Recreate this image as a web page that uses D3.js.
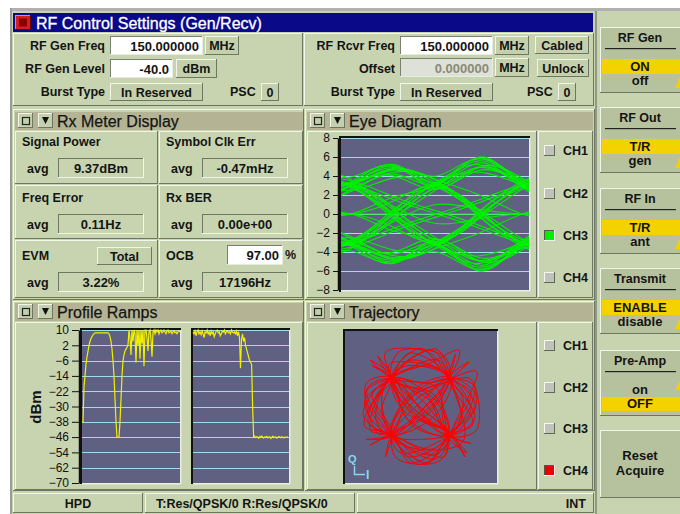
<!DOCTYPE html>
<html><head><meta charset="utf-8">
<script src="https://cdn.jsdelivr.net/npm/d3@7"></script>
<style>
html,body{margin:0;padding:0;background:#fff;}
svg{display:block;font-family:"Liberation Sans",Arial,Helvetica,sans-serif;}
</style></head><body>
<svg id="c" width="680" height="514"></svg>
<script>
// ---------------- DATA ----------------
const eyeTicks = [8,6,4,2,0,-2,-4,-6,-8];
const rampTicks = [10,2,-6,-14,-22,-30,-38,-46,-54,-62,-70];
const eyeKnots = [-0.5,0,0.5,1,1.5,2,2.5];
const eyeTraces = [
 [1,3.0,5.0,3.1,6.0,3.0,1],
 [-1,-3.0,-5.0,-3.1,-6.0,-3.0,-1],
 [4.5,3.2,4.6,2.9,0.2,-3.1,-4.5],
 [-4.5,-3.2,-4.6,-2.9,-0.2,3.1,4.5],
 [1,3.1,0.0,-3.0,-5.8,-3.2,-1],
 [-1,-3.1,0.0,3.0,5.8,3.2,1],
 [4,2.8,-0.3,-3.2,0.2,3.0,4],
 [-4,-2.8,0.3,3.2,-0.2,-3.0,-4],
 [2,3.4,5.2,3.3,5.4,2.9,2],
 [-2,-3.4,-5.2,-3.3,-5.4,-2.9,-2],
 [5,3.6,0.4,-2.6,-4.9,-3.3,-2],
 [-5,-3.6,-0.4,2.6,4.9,3.3,2],
 [0,2.6,4.4,3.5,-0.3,-3.4,-5],
 [0,-2.6,-4.4,-3.5,0.3,3.4,5],
 [3,3.0,1.5,0.0,-1.5,-3.0,-3],
 [-3,-3.0,-1.5,0.0,1.5,3.0,3],
 [0,0.0,0.0,0.0,0.0,0.0,0],
 [0,0.0,1.8,3.1,5.6,3.4,2],
 [0,0.0,-1.8,-3.1,-5.6,-3.4,-2],
 [4,3.3,4.8,3.6,2.0,0.0,-1],
 [-4,-3.3,-4.8,-3.6,-2.0,0.0,1],
 [2,2.7,-0.5,-3.4,-5.2,-2.8,0],
 [-2,-2.7,0.5,3.4,5.2,2.8,0],
 [5,3.9,5.1,2.7,4.9,3.6,4],
 [-5,-3.9,-5.1,-2.7,-4.9,-3.6,-4],
 [3,3.2,0.6,-2.7,-0.4,3.3,5],
 [-3,-3.2,-0.6,2.7,0.4,-3.3,-5],
 [1,2.4,4.2,2.9,5.0,3.8,1],
 [-1,-2.4,-4.2,-2.9,-5.0,-3.8,-1],
 [4,3.5,1.8,0.3,-1.2,-2.9,-4],
 [-4,-3.5,-1.8,-0.3,1.2,2.9,4],
 [2,3.0,4.7,3.2,0.4,-2.6,-5],
 [-2,-3.0,-4.7,-3.2,-0.4,2.6,5],
 [3.5,2.9,-0.1,-3.3,-4.4,-3.0,-1],
 [-3.5,-2.9,0.1,3.3,4.4,3.0,1],
 [0,3.1,4.0,2.6,4.6,3.1,0],
 [0,-3.1,-4.0,-2.6,-4.6,-3.1,0],
 [4.8,3.0,0.8,-1.0,-0.5,0.0,0],
 [-4.8,-3.0,-0.8,1.0,0.5,0.0,0],
 [0,0.0,1.4,3.0,0.3,-3.0,-4],
 [0,0.0,-1.4,-3.0,-0.3,3.0,4],
 [2.2,3.3,4.9,4.0,5.9,3.5,2],
 [-2.2,-3.3,-4.9,-4.0,-5.9,-3.5,-2],
 [3.8,2.5,3.8,3.0,0.0,-2.7,-3],
 [-3.8,-2.5,-3.8,-3.0,0.0,2.7,3]
];
// Profile ramps (dBm per sample)
const rampUp = [-38,-38,-20,-14,-8,-4,-1,2,4,5.5,6.5,7.5,8,
 8.5,8.5,8.5,8.5,8.5,8.5,8.5,8.5,8.5,8.5,8.5,8.5,8.5,8.5,
 8,6.5,4,0,-6,-14,-26,-38,-46,-46,-46,-38,-26,-14,-6,-3,-1,0,1,2,
 10,6,-3,10,4,10,8,-7,10,2,10,-5,10,3,10,-9,10,10,6,-1,9,10,5,-4,9,10,8,10,
 9,10,8,9.5,10,8.5,9,10,9,8,9.5,10,8.5,9,9.5,8,9,9.5,8.5,9,8,9,9.5,9];
const rampDown = [9,8,9.5,7,9,10,8,9,7.5,9.5,8,6,9,8.5,10,8,9,7,9.5,8,9,6.5,8,9.5,10,8.5,9,7,8,9.5,9,10,8,9,9.5,8.5,9,8,10,9,8.5,9,8,9.5,7,9,6,
 -10,5,8,4,6,2,0,-2,-4,-6,-7,-8,-30,
 -46,-45.5,-46.3,-45.8,-46,-46.6,-45.7,-46.2,-45.4,-46,-46.5,-45.9,-46.1,-45.6,-46.4,-46,-45.8,-46.7,-46.1,-45.5,-46.3,-46,-45.9,-46.6,-46.2,-45.7,-46,-46.4,-45.8,-46.1,-46.5,-45.9,-46.2,-46,-45.8];
// Trajectory I/Q samples
const trajIQ = [
[-0.72,0.75],[-0.3,1.38],[0.78,0.7],[0.35,-0.25],[-0.74,-0.7],[-1.42,0.35],[-0.7,0.78],[0.45,1.2],[0.76,0.66],[1.1,-0.9],
[-0.05,-1.1],[-0.78,-0.74],[-0.2,0.4],[0.73,0.77],[1.45,0.25],[0.77,-0.76],[-0.35,-0.3],[-0.73,0.7],[-1.25,1.05],[-0.76,0.74],
[-1.0,-0.1],[-0.71,-0.77],[0.4,-1.35],[0.74,-0.7],[0.3,0.25],[-0.77,0.71],[0.1,1.05],[0.72,0.75],[-0.25,-0.35],[-0.76,-0.69],
[-1.3,-1.0],[-0.73,-0.78],[0.1,-1.48],[0.78,-0.73],[1.35,-0.45],[0.75,0.7],[0.9,1.35],[0.71,0.76],[-0.3,0.2],[-0.76,-0.72],
[-1.48,-0.2],[-0.74,0.73],[0.25,-0.4],[0.77,-0.71],[0.0,-0.85],[-0.72,-0.75],[0.2,0.3],[0.74,0.72],[1.3,-0.1],[0.73,-0.77],
[1.2,-1.2],[0.76,-0.7],[-0.4,0.35],[-0.75,0.76],[-1.4,0.6],[-1.1,-0.7],[-0.77,-0.71],[-0.3,-1.3],[0.72,-0.74],[0.35,0.3],
[-0.74,0.7],[-0.55,1.42],[0.6,1.3],[0.76,0.73],[0.2,-0.2],[-0.73,-0.73],[-0.9,-1.3],[-0.76,-0.7],[-1.2,0.1],[-0.72,0.74],
[-1.3,1.2],[-0.75,0.71],[0.3,0.1],[0.75,-0.75],[1.45,-0.6],[1.3,0.7],[0.74,0.74],[0.0,1.5],[-0.76,0.72],[-0.1,-0.3],
[0.73,-0.72],[0.5,-1.4],[-0.6,-1.35],[-0.74,-0.74],[-0.15,0.15],[0.77,0.71],[1.25,1.15],[0.75,0.74],[1.1,0.2],[0.76,-0.73],
[-0.2,-0.1],[-0.75,0.73],[-1.35,-0.4],[-0.74,-0.72],[0.3,-1.1],[0.75,-0.71],[1.42,0.0],[0.73,0.73],[0.4,0.1],[-0.72,-0.76],
[-1.45,0.1],[-0.76,0.73],[-0.2,1.2],[0.74,0.71],[-0.1,0.35],[-0.75,-0.71],[0.2,-1.45],[0.76,-0.74],[1.15,-1.3],[0.74,-0.72],
[-0.35,0.1],[-0.74,0.75],[-0.9,1.4],[0.2,1.4],[0.75,0.72],[1.4,-0.3],[0.72,-0.74],[0.1,0.4],[-0.76,0.72],[-1.15,-0.35],
[-0.74,-0.75],[0.25,0.15],[0.75,0.73],[1.0,1.45],[0.2,1.1],[-0.73,0.73],[-1.45,-0.5],[-0.75,-0.72],[-0.25,-1.45],[0.74,-0.73],
[-0.05,0.0],[-0.75,0.72],[-1.38,0.45],[-0.73,-0.74],[0.35,-1.25],[0.77,-0.72],[-0.15,-0.2],[-0.74,0.73],[0.3,1.45],[0.76,0.72],
[1.05,-0.35],[0.74,-0.74],[-0.5,-1.2],[-0.76,-0.72],[-0.3,0.25],[0.73,0.73],[1.4,0.5],[0.75,-0.72],[0.15,-0.35],[-0.74,0.72],
[-0.35,1.05],[0.75,0.74],[0.2,-0.05],[-0.75,-0.73],[-1.4,-0.85],[-0.72,-0.74],[-1.25,0.35],[-0.76,0.71],[-1.1,1.3],[-0.74,0.74],
[0.4,0.5],[0.76,-0.72],[1.3,-0.95],[0.73,-0.73],[0.55,0.2],[0.75,0.72],[0.4,1.48],[-0.73,0.72],[-0.45,-0.1],[0.74,-0.74],
[0.0,-1.5],[-0.75,-0.72],[-1.0,0.25],[-0.75,0.73],[0.1,0.6],[0.74,0.72],[1.45,0.9],[0.9,-0.4],[0.75,-0.72],[-0.2,-0.5],
[-0.74,0.72],[-0.8,1.1],[0.45,1.0],[0.75,0.71],[1.3,0.35],[0.75,-0.73],[0.6,-1.3],[-0.76,-0.73],[-1.3,-0.6],[-0.73,0.74],
[0.0,0.2],[0.75,-0.72]
];
const channels = ["CH1","CH2","CH3","CH4"];
const eyeActive = 2, trajActive = 3;
const meterLabels = ["Signal Power","Symbol Clk Err","Freq Error","Rx BER","EVM","OCB"];
const meterValues = ["9.37dBm","-0.47mHz","0.11Hz","0.00e+00","3.22%","17196Hz"];
const sideButtons = [
 {title:"RF Gen", opts:["ON","off"], sel:0},
 {title:"RF Out", opts:["T/R","gen"], sel:0},
 {title:"RF In", opts:["T/R","ant"], sel:0},
 {title:"Transmit", opts:["ENABLE","disable"], sel:0},
 {title:"Pre-Amp", opts:["on","OFF"], sel:1}
];
const statusTexts = ["HPD","T:Res/QPSK/0 R:Res/QPSK/0","INT"];

// ---------------- STYLE ----------------
const C = {bg:"#c8d4b0", hdr:"#b4b494", btn:"#c4d0ac", side:"#b6c29e", light:"#f2f6ea", dark:"#6c7660",
  navy:"#0a0a88", yellow:"#f4d200", plot:"#5f6082", grid:"#9fdcec", text:"#141414"};
const svg = d3.select("#c");

function bevel(g,x,y,w,h,o={}){
  const lw=o.lw||1, s=o.sunken;
  g.append("rect").attr("x",x).attr("y",y).attr("width",w).attr("height",h).attr("fill",o.fill||C.bg);
  const tl=o.tl||(s?C.dark:C.light), br=o.br||(s?C.light:C.dark);
  g.append("rect").attr("x",x).attr("y",y+h-lw).attr("width",w).attr("height",lw).attr("fill",br);
  g.append("rect").attr("x",x+w-lw).attr("y",y).attr("width",lw).attr("height",h).attr("fill",br);
  g.append("rect").attr("x",x).attr("y",y).attr("width",w-lw).attr("height",lw).attr("fill",tl);
  g.append("rect").attr("x",x).attr("y",y).attr("width",lw).attr("height",h-lw).attr("fill",tl);
}
function txt(g,x,y,s,o={}){
  return g.append("text").attr("x",x).attr("y",y).text(s)
   .attr("font-size",o.size||12.5).attr("font-weight",o.weight||"bold")
   .attr("fill",o.fill||C.text).attr("text-anchor",o.anchor||"start");
}
function button(g,x,y,w,h,label,o={}){
  bevel(g,x,y,w,h,{fill:o.fill||C.btn});
  txt(g,x+w/2,y+h/2+4.5,label,{anchor:"middle",size:o.size||12.5});
}
function input(g,x,y,w,h,val,o={}){
  bevel(g,x,y,w,h,{fill:o.fill||"#ffffff",sunken:true,tl:"#7a8070",br:"#e8ece0"});
  txt(g,x+w-4,y+h/2+5,val,{anchor:"end",size:13,fill:o.color||C.text});
}
function header(g,x,y,w,title){
  g.append("rect").attr("x",x).attr("y",y).attr("width",w).attr("height",18).attr("fill",C.hdr);
  bevel(g,x+3,y+1,15,15,{fill:C.btn});
  g.append("rect").attr("x",x+7.5).attr("y",y+5.5).attr("width",7).attr("height",7).attr("fill","none").attr("stroke","#222").attr("stroke-width",1.2);
  bevel(g,x+23,y+1,15,15,{fill:C.btn});
  g.append("path").attr("d",`M${x+27},${y+5}H${x+34}L${x+30.5},${y+12}Z`).attr("fill","#111");
  txt(g,x+42,y+15,title,{size:16,weight:"normal"}).attr("stroke","#141414").attr("stroke-width",0.25);
}

// ---------------- FRAME ----------------
svg.append("rect").attr("x",0).attr("y",0).attr("width",680).attr("height",514).attr("fill","#ffffff");
svg.append("rect").attr("x",10).attr("y",8).attr("width",670).attr("height",3).attr("fill","#b0b0b0");
svg.append("rect").attr("x",10).attr("y",8).attr("width",2).attr("height",506).attr("fill","#9a9a9a");
svg.append("rect").attr("x",12).attr("y",11).attr("width",583).attr("height",503).attr("fill",C.bg);
svg.append("rect").attr("x",595).attr("y",11).attr("width",2).attr("height",503).attr("fill","#8f9a84");
svg.append("rect").attr("x",597).attr("y",11).attr("width",83).attr("height",503).attr("fill",C.bg);

// Title bar
const tp = svg.append("g");
tp.append("rect").attr("x",13).attr("y",13).attr("width",580).attr("height",19).attr("fill",C.navy);
bevel(tp,15,15,16,15,{fill:"#d02020",tl:"#ff8080",br:"#600000"});
tp.append("rect").attr("x",19).attr("y",18.5).attr("width",8).attr("height",8).attr("fill","#8a0000");
txt(tp,36,29,"RF Control Settings (Gen/Recv)",{size:16,weight:"normal",fill:"#ffffff"}).attr("stroke","#ffffff").attr("stroke-width",0.3);

// top settings panel
bevel(tp,13,33,290,73,{fill:C.bg});
bevel(tp,304,33,290,73,{fill:C.bg});
txt(tp,105,50,"RF Gen Freq",{anchor:"end"});
input(tp,110,36,93,19,"150.000000");
button(tp,205,36,34,19,"MHz");
txt(tp,105,73,"RF Gen Level",{anchor:"end"});
input(tp,110,59,63,19,"-40.0");
button(tp,176,59,41,19,"dBm");
txt(tp,105,96,"Burst Type",{anchor:"end"});
button(tp,110,83,93,18,"In Reserved");
txt(tp,230,96,"PSC");
button(tp,261,83,18,18,"0");

txt(tp,395,50,"RF Rcvr Freq",{anchor:"end"});
input(tp,400,36,93,19,"150.000000");
button(tp,495,36,34,19,"MHz");
button(tp,535,36,54,18,"Cabled");
txt(tp,395,73,"Offset",{anchor:"end"});
input(tp,400,58,93,19,"0.000000",{fill:"#dde1d8",color:"#8a8a76"});
button(tp,495,58,34,19,"MHz");
button(tp,537,59,52,18,"Unlock");
txt(tp,395,96,"Burst Type",{anchor:"end"});
button(tp,400,83,93,18,"In Reserved");
txt(tp,527,96,"PSC");
button(tp,558,83,18,18,"0");

// ---------------- RX METER ----------------
const rx = svg.append("g");
bevel(rx,13,109,291,191,{fill:C.bg});
header(rx,15,112,288,"Rx Meter Display");
const cellX=[15,159], cellW=[143,144], cellY=[131,185,240], cellH=[53,54,58];
meterLabels.forEach((lab,i)=>{
  const c=i%2, r=Math.floor(i/2);
  const x=cellX[c], y=cellY[r];
  bevel(rx,x,y,cellW[c],cellH[r],{fill:C.bg});
  const ly = [146,202,260][r], ay=[173,229,287][r];
  txt(rx,x+7,ly,lab);
  txt(rx,x+12,ay,"avg");
  const bx = c===0?58:202, by=[158,214,272][r];
  bevel(rx,bx,by,86,20,{fill:C.bg,sunken:true});
  txt(rx,bx+43,by+15,meterValues[i],{anchor:"middle",size:13});
});
button(rx,97,247,55,18,"Total");
input(rx,227,245,56,20,"97.00");
txt(rx,285,259,"%");

// ---------------- EYE DIAGRAM ----------------
const eg = svg.append("g");
bevel(eg,305,109,290,191,{fill:C.bg});
header(eg,307,112,286,"Eye Diagram");
bevel(eg,307,131,230,167,{fill:C.bg});
bevel(eg,538,131,55,167,{fill:C.bg});
const ex = d3.scaleLinear().domain([-0.12,2.08]).range([341,529]);
const ey = d3.scaleLinear().domain([-8,8]).range([290,138]);
eg.append("rect").attr("x",341).attr("y",138).attr("width",188).attr("height",152).attr("fill",C.plot);
eg.append("g").selectAll("line").data(eyeTicks).join("line")
  .attr("x1",341).attr("x2",529).attr("y1",d=>Math.round(ey(d))+0.5).attr("y2",d=>Math.round(ey(d))+0.5)
  .attr("stroke",C.grid).attr("stroke-width",1.2);
eg.append("clipPath").attr("id","eyeClip").append("rect").attr("x",341).attr("y",138).attr("width",188).attr("height",152);
const eyeLine = d3.line().x((d,i)=>ex(eyeKnots[i])).y(d=>ey(d)).curve(d3.curveNatural);
eg.append("g").attr("clip-path","url(#eyeClip)").selectAll("path").data(eyeTraces).join("path")
  .attr("d",eyeLine).attr("fill","none").attr("stroke","#00f000").attr("stroke-width",1.1);
eg.append("rect").attr("x",339).attr("y",136).attr("width",191).attr("height",2).attr("fill","#111");
eg.append("rect").attr("x",339).attr("y",136).attr("width",2).attr("height",156).attr("fill","#111");
eg.append("rect").attr("x",341).attr("y",290).attr("width",189).attr("height",1.5).attr("fill","#e8eee0");
eg.append("rect").attr("x",529).attr("y",138).attr("width",1.5).attr("height",153).attr("fill","#e8eee0");
const eyeAxis = eg.append("g").attr("transform","translate(338,0)")
  .call(d3.axisLeft(ey).tickValues(eyeTicks).tickSize(5).tickSizeOuter(0).tickFormat(d3.format("d")));
eyeAxis.select(".domain").attr("stroke","#111").attr("stroke-width",1.5);
eyeAxis.selectAll(".tick line").attr("stroke","#111");
eyeAxis.selectAll("text").attr("font-size",12).attr("fill","#111").attr("font-family","Liberation Sans, Arial, sans-serif");

function chList(g,ys,active,color){
  channels.forEach((ch,i)=>{
    const y=ys[i];
    if(i===active){
      bevel(g,544,y-5,11,11,{fill:color,tl:"#505848",br:"#f4f8ee"});
    } else {
      bevel(g,544,y-5,11,11,{fill:"#c0c4b8",tl:"#f4f8ee",br:"#606858"});
    }
    txt(g,563,y+5,ch,{size:12.5});
  });
}
chList(eg,[150,193,235,277],eyeActive,"#00ee00");

// ---------------- PROFILE RAMPS ----------------
const pg = svg.append("g");
bevel(pg,13,301,291,190,{fill:C.bg});
header(pg,15,303,288,"Profile Ramps");
bevel(pg,15,322,288,168,{fill:C.bg});
const ry = d3.scaleLinear().domain([-70,10]).range([483,330]);
const rxL = d3.scaleLinear().domain([0,rampUp.length-1]).range([82,180]);
const rxR = d3.scaleLinear().domain([0,rampDown.length-1]).range([193,288]);
[[82,180],[193,289]].forEach(([a,b])=>{
  pg.append("rect").attr("x",a).attr("y",330).attr("width",b-a).attr("height",153).attr("fill",C.plot);
  pg.append("g").selectAll("line").data(rampTicks).join("line")
   .attr("x1",a).attr("x2",b).attr("y1",d=>Math.round(ry(d))+0.5).attr("y2",d=>Math.round(ry(d))+0.5)
   .attr("stroke",C.grid).attr("stroke-width",1.2);
  pg.append("rect").attr("x",a-2).attr("y",328).attr("width",b-a+3).attr("height",2).attr("fill","#111");
  pg.append("rect").attr("x",a-2).attr("y",328).attr("width",2).attr("height",156).attr("fill","#111");
  pg.append("rect").attr("x",a).attr("y",483).attr("width",b-a+1).attr("height",1.5).attr("fill","#e8eee0");
  pg.append("rect").attr("x",b).attr("y",330).attr("width",1.5).attr("height",154).attr("fill","#e8eee0");
});
const lineL = d3.line().x((d,i)=>rxL(i)).y(d=>ry(d));
const lineR = d3.line().x((d,i)=>rxR(i)).y(d=>ry(d));
pg.append("path").attr("d",lineL(rampUp)).attr("fill","none").attr("stroke","#f0f000").attr("stroke-width",1.2);
pg.append("path").attr("d",lineR(rampDown)).attr("fill","none").attr("stroke","#f0f000").attr("stroke-width",1.2);
const rampAxis = pg.append("g").attr("transform","translate(79,0)")
  .call(d3.axisLeft(ry).tickValues(rampTicks).tickSize(7).tickSizeOuter(0).tickFormat(d3.format("d")));
rampAxis.select(".domain").attr("stroke","#111").attr("stroke-width",1.5);
rampAxis.selectAll(".tick line").attr("stroke","#111");
rampAxis.selectAll("text").attr("font-size",12).attr("fill","#111").attr("font-family","Liberation Sans, Arial, sans-serif");
txt(pg,0,0,"dBm",{size:15,anchor:"middle"}).attr("transform","translate(41,407) rotate(-90)");

// ---------------- TRAJECTORY ----------------
const tg = svg.append("g");
bevel(tg,305,301,290,190,{fill:C.bg});
header(tg,307,303,286,"Trajectory");
bevel(tg,307,322,230,168,{fill:C.bg});
bevel(tg,538,322,55,168,{fill:C.bg});
const tx = d3.scaleLinear().domain([-2,2]).range([343,498]);
const ty = d3.scaleLinear().domain([-2,2]).range([484,329]);
tg.append("rect").attr("x",345).attr("y",331).attr("width",152).attr("height",152).attr("fill",C.plot);
tg.append("rect").attr("x",343).attr("y",329).attr("width",155).attr("height",2).attr("fill","#111");
tg.append("rect").attr("x",343).attr("y",329).attr("width",2).attr("height",155).attr("fill","#111");
tg.append("rect").attr("x",345).attr("y",483).attr("width",153).attr("height",1.5).attr("fill","#e8eee0");
tg.append("rect").attr("x",497).attr("y",331).attr("width",1.5).attr("height",153).attr("fill","#e8eee0");
tg.append("clipPath").attr("id","trClip").append("rect").attr("x",345).attr("y",331).attr("width",152).attr("height",152);
const trLine = d3.line().x(d=>tx(d[0])).y(d=>ty(d[1])).curve(d3.curveCatmullRom.alpha(0.5));
tg.append("path").attr("clip-path","url(#trClip)").attr("d",trLine(trajIQ)).attr("fill","none").attr("stroke","#ff0000").attr("stroke-width",1);
txt(tg,348,463,"Q",{size:11,fill:"#8ad8ea"});
tg.append("path").attr("d","M354.5,466V474.5H365").attr("fill","none").attr("stroke","#8ad8ea").attr("stroke-width",1.5);
txt(tg,366,479,"I",{size:12,fill:"#8ad8ea"});
chList(tg,[345,387,428,470],trajActive,"#ee0000");

// ---------------- STATUS BAR ----------------
const sb = svg.append("g");
bevel(sb,13,493,130,20,{fill:C.bg});
bevel(sb,145,493,210,20,{fill:C.bg});
bevel(sb,357,493,237,20,{fill:C.bg});
txt(sb,78,508,statusTexts[0],{anchor:"middle"});
txt(sb,156,508,statusTexts[1]);
txt(sb,586,508,statusTexts[2],{anchor:"end"});

// ---------------- SIDEBAR ----------------
const sg = svg.append("g");
const sideTops=[27,107,188,268,350];
sideButtons.forEach((b,i)=>{
  const y0=sideTops[i];
  bevel(sg,600,y0,82,66,{fill:C.side});
  txt(sg,640,y0+15,b.title,{anchor:"middle"});
  sg.append("rect").attr("x",605).attr("y",y0+21).attr("width",71).attr("height",1.2).attr("fill","#222");
  const bands=[[y0+32,15],[y0+47,14]];
  bands.forEach(([by,bh],k)=>{
    if(k===b.sel){
      sg.append("rect").attr("x",602).attr("y",by).attr("width",78).attr("height",bh).attr("fill",C.yellow);
    }
  });
  const tri = b.sel===0 ? `M680,${y0+50}V${y0+61}H675Z` : `M680,${y0+31}V${y0+40}H675Z`;
  sg.append("path").attr("d",tri).attr("fill",C.yellow);
  txt(sg,640,y0+44,b.opts[0],{anchor:"middle",size:13});
  txt(sg,640,y0+58,b.opts[1],{anchor:"middle",size:13});
});
bevel(sg,600,430,82,68,{fill:C.side});
txt(sg,640,460,"Reset",{anchor:"middle",size:13});
txt(sg,640,475,"Acquire",{anchor:"middle",size:13});
</script></body></html>
